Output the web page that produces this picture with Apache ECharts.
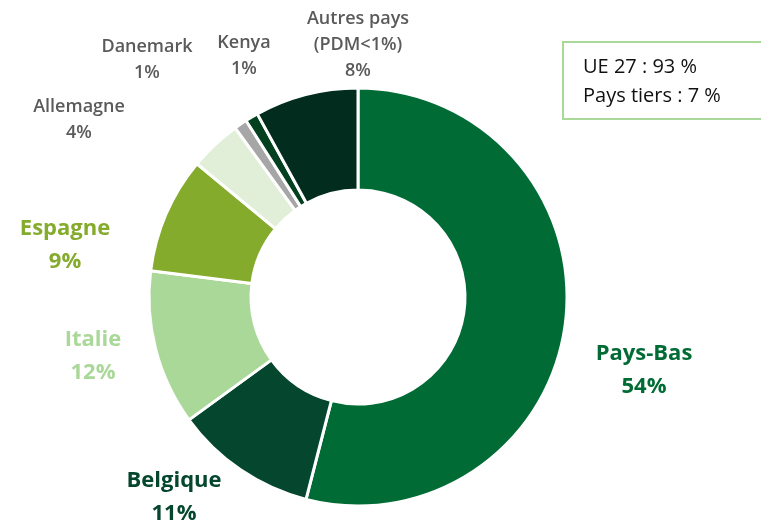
<!DOCTYPE html>
<html>
<head>
<meta charset="utf-8">
<script src="https://cdn.jsdelivr.net/npm/echarts@6/dist/echarts.min.js"></script>
<style>
html, body { margin: 0; padding: 0; background: #fff; }
#main { width: 761px; height: 525px; }
</style>
</head>
<body>
<div id="main"></div>
<script>
var chartDom = document.getElementById('main');
var myChart = echarts.init(chartDom);
var option;

// ---- data ----
var pays = ['Pays-Bas', 'Belgique', 'Italie', 'Espagne', 'Allemagne', 'Danemark', 'Kenya', 'Autres pays\n(PDM<1%)'];
var parts = [54, 11, 12, 9, 4, 1, 1, 8];
var couleurs = ['#006b35', '#05472e', '#a9d899', '#84ab2c', '#e1efd9', '#a6a6a6', '#034020', '#022d1e'];
var labelCouleurs = ['#006b35', '#05472e', '#a9d899', '#84ab2c', '#5a5a5a', '#5a5a5a', '#5a5a5a', '#5a5a5a'];
var resume = ['UE 27 : 93 %', 'Pays tiers : 7 %'];

// label anchor points (centre of each text block)
var labelPos = [[644, 370], [174, 497], [93, 356], [65, 245], [79, 120], [147, 60], [244, 56], [358, 45]];

var data = [];
for (var i = 0; i < pays.length; i++) {
    var big = i < 4;
    data.push({
        name: pays[i],
        value: parts[i],
        itemStyle: { color: couleurs[i] },
        label: {
            color: labelCouleurs[i],
            fontSize: big ? 22 : 18,
            fontWeight: big ? 'bold' : 600,
            lineHeight: big ? 33 : 26
        }
    });
}

option = {
    backgroundColor: '#fff',
    animation: false,
    series: [{
        type: 'pie',
        center: [358, 297],
        radius: [107, 209],
        startAngle: 90,
        clockwise: true,
        data: data,
        itemStyle: { borderColor: '#fff', borderWidth: 3 },
        label: {
            show: true,
            position: 'outside',
            fontFamily: 'Open Sans',
            align: 'center',
            formatter: function (p) { return p.name + '\n' + p.value + '%'; }
        },
        labelLine: { show: false },
        labelLayout: function (params) {
            var pos = labelPos[params.dataIndex];
            return { x: pos[0], y: pos[1], align: 'center', verticalAlign: 'middle' };
        }
    }],
    graphic: [{
        type: 'rect',
        shape: { x: 563, y: 42, width: 220, height: 77 },
        style: { fill: '#fff', stroke: '#a9d899', lineWidth: 2 }
    }, {
        type: 'text',
        left: 583,
        top: 53,
        style: {
            text: resume.join('\n'),
            fontFamily: 'Open Sans',
            fontSize: 20,
            lineHeight: 29,
            fill: '#111'
        }
    }]
};
option && myChart.setOption(option);
</script>
</body>
</html>
